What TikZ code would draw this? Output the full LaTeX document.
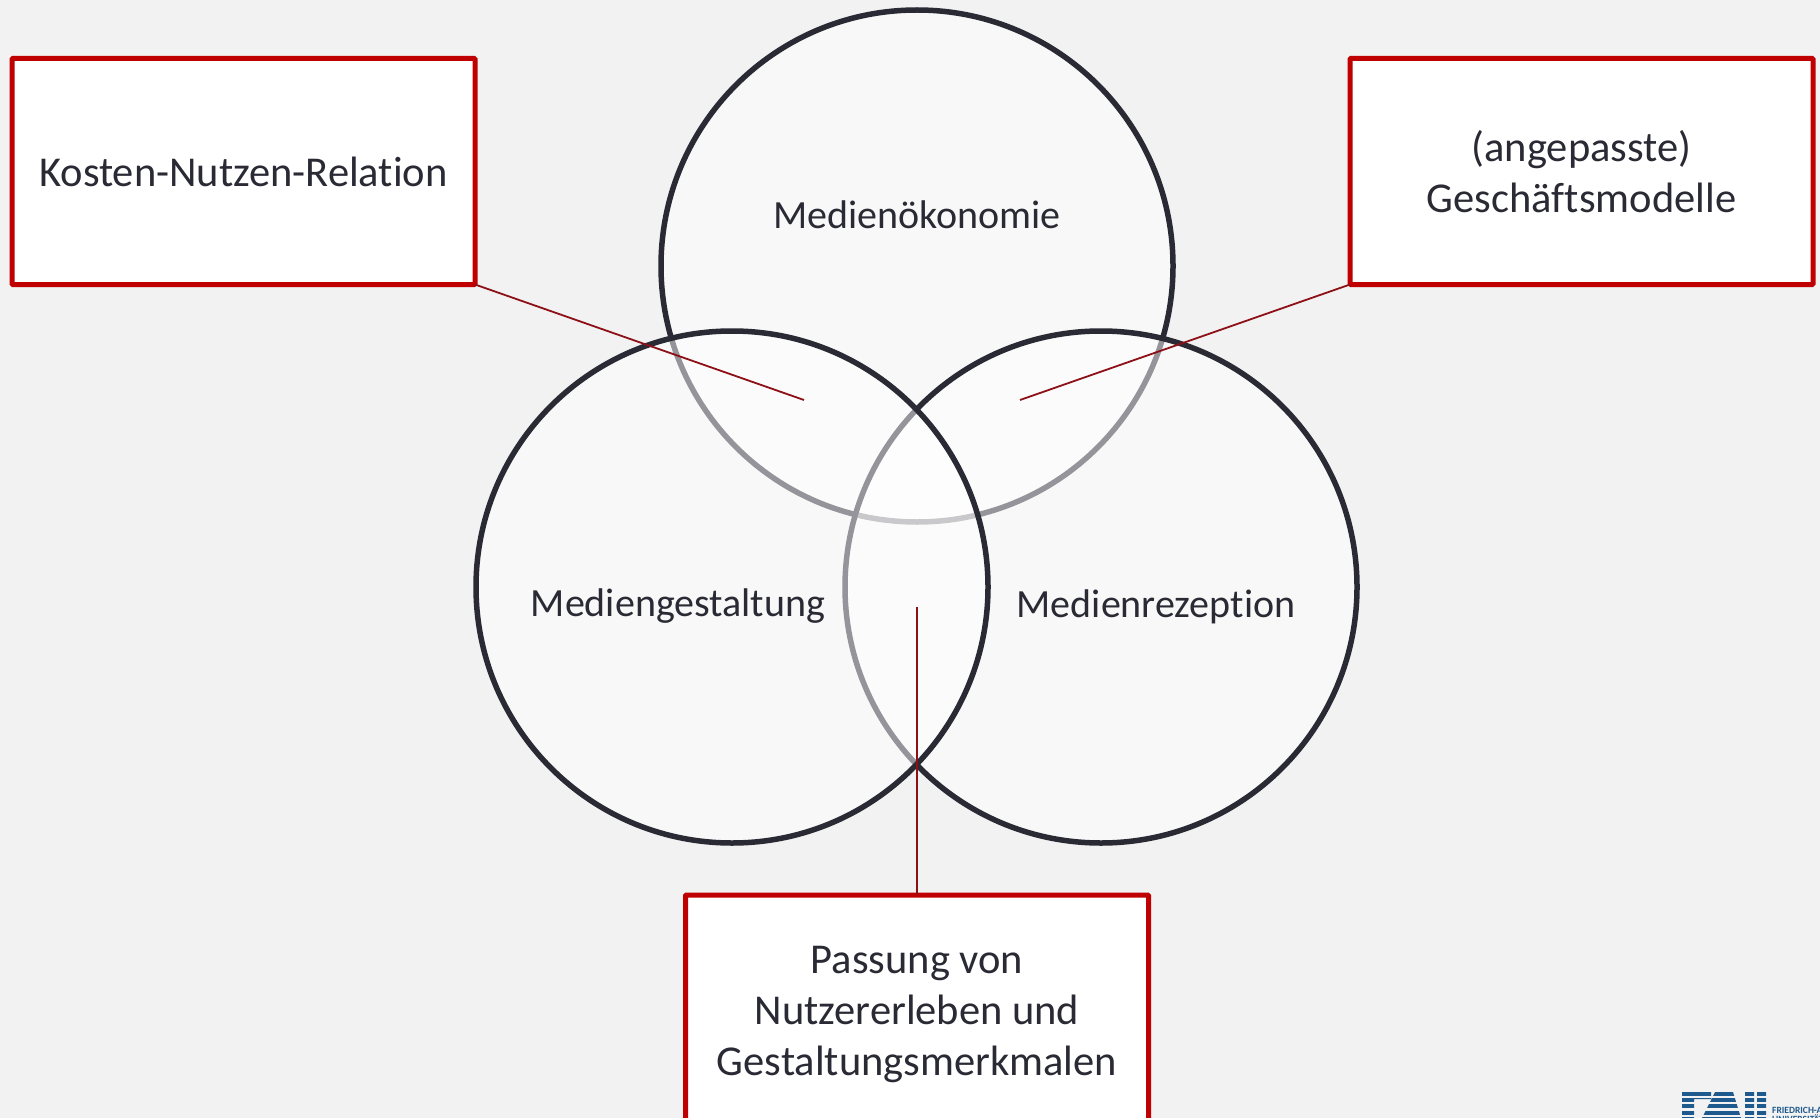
\documentclass[tikz,border=0pt]{standalone}
\usepackage{fontspec}
\setmainfont{Carlito}[Ligatures=NoCommon]
\usepackage{tikz}
\usetikzlibrary{positioning}

\definecolor{bgGrey}{HTML}{F2F2F2}
\definecolor{inkDark}{HTML}{2A2A35}
\definecolor{boxRed}{HTML}{C00000}
\definecolor{lineRed}{HTML}{8C1016}
\definecolor{fauBlue}{HTML}{1F5A8F}

\tikzset{
  field/.style={circle,draw=inkDark,line width=5.5pt,fill=white,fill opacity=.5,
    draw opacity=1,minimum size=512pt,inner sep=0pt,outer sep=0pt},
  fieldlabel/.style={text=inkDark,font=\fontsize{40}{51}\selectfont},
  topicbox/.style={rectangle,draw=boxRed,line width=5pt,fill=white,rounded corners=1pt,
    minimum width=463pt,minimum height=226pt,inner sep=0pt,outer sep=0pt,align=center,
    text=inkDark,font=\fontsize{42.5}{51}\selectfont},
  pointer/.style={draw=lineRed,line width=1.8pt}
}

\begin{document}
\begin{tikzpicture}[x=1pt,y=-1pt]
  \useasboundingbox[fill=bgGrey] (0,0) rectangle (1820,1118);

  % circles: order decides which outline gets veiled
  \node[field] (oekonomie) at (917,266) {};
  \node[field] (rezeption) at (1101,587) {};
  \node[field] (gestaltung) at (732,587) {};

  \node[fieldlabel] (oekonomieText) at (917,214.5) {Medienökonomie};
  \node[fieldlabel] (gestaltungText) at (678,606.5) {Mediengestaltung};
  \node[fieldlabel] (rezeptionText) at (1156,606.5) {Medienrezeption};

  \node[topicbox] (kosten) at (243.5,171.5) {Kosten-Nutzen-Relation};
  \node[topicbox] (modelle) at (1581.5,171.5) {(angepasste)\\Geschäftsmodelle};
  \node[topicbox,minimum height=239pt] (passung) at (917,1014.5) {Passung von\\Nutzererleben und\\Gestaltungsmerkmalen};

  \coordinate (kostenEnd) at (804,400);
  \coordinate (modelleEnd) at (1020,400);
  \coordinate (passungEnd) at (917,607);

  \path[pointer]
  (kosten.south east) -- (kostenEnd)
  (modelle.south west) -- (modelleEnd)
  (passung.north) -- (passungEnd);

  % logo, cut off by the page edge
  \begin{scope}
    \clip (1682,1092) -- (1711,1092) -- (1711,1099) -- (1694,1099) -- (1694,1118) -- (1682,1118) -- cycle
    (1715,1092) -- (1733,1092) -- (1741,1118) -- (1702,1118) -- cycle
    (1745,1092) -- (1754,1092) -- (1754,1118) -- (1745,1118) -- cycle
    (1757,1092) -- (1766,1092) -- (1766,1118) -- (1757,1118) -- cycle;
    \foreach \row in {0,...,4}
      \fill[fauBlue] (1680,1092+\row*6.2) rectangle (1770,1096+\row*6.2);
  \end{scope}
  \node[anchor=west,inner sep=0pt,text=fauBlue,font=\fontsize{9.5}{10}\bfseries\selectfont] (fauName) at (1772,1110) {FRIEDRICH-A};
  \node[anchor=west,inner sep=0pt,text=fauBlue,font=\fontsize{9.5}{10}\bfseries\selectfont] (fauUni) at (1772,1119) {UNIVERSITÄT};
\end{tikzpicture}
\end{document}
